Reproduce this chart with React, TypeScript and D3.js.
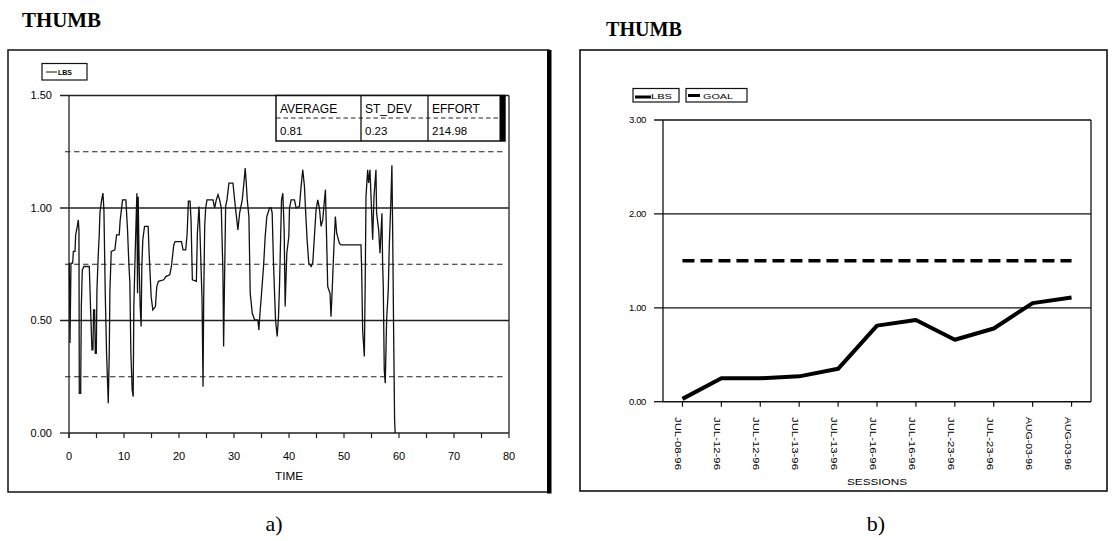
import React from "react";
import * as d3 from "d3";

const TITLE = "THUMB";
const SANS = "'Liberation Sans', Arial, sans-serif";
const SERIF = "'Liberation Serif', 'Times New Roman', serif";

// a) force trace over time (seconds, lbs)
const traceTime = [
  0.06, 0.18, 0.36, 0.67, 0.79, 1.09, 1.21, 1.51, 1.69, 1.81, 1.87, 2.12, 2.24, 2.42, 2.72, 3.69,
  3.93, 4.17, 4.35, 4.47, 4.66, 4.78, 4.96, 5.08, 5.32, 5.5, 5.62, 5.93, 6.17, 6.35, 6.59, 6.83,
  7.14, 7.32, 7.44, 7.68, 8.34, 8.65, 9.13, 9.31, 9.74, 10.34, 10.64, 10.88, 11.07, 11.25, 11.49,
  11.67, 11.79, 11.97, 12.15, 12.34, 12.46, 12.58, 12.76, 12.94, 13.12, 13.24, 13.42, 13.73, 14.39,
  14.57, 14.94, 15.24, 15.72, 15.96, 16.26, 17.23, 17.6, 18.32, 18.62, 19.05, 19.29, 20.44, 20.74,
  21.22, 21.47, 21.71, 22.01, 22.19, 22.43, 23.16, 23.34, 23.64, 23.82, 24.19, 24.37, 24.49, 24.67,
  24.85, 25.09, 26.18, 26.48, 26.78, 27.09, 27.39, 27.69, 27.99, 28.11, 28.3, 28.48, 28.72, 29.08,
  29.81, 30.11, 30.71, 31.02, 31.5, 31.8, 32.04, 32.23, 32.41, 32.71, 32.95, 33.32, 33.74, 34.34,
  34.52, 34.77, 35.01, 35.37, 35.67, 35.97, 36.46, 36.76, 36.94, 37.18, 37.55, 37.85, 38.09, 38.27,
  38.64, 38.88, 39.12, 39.3, 39.6, 39.97, 40.09, 40.39, 40.99, 41.3, 41.9, 42.2, 42.5, 42.81, 42.99,
  43.29, 43.59, 44.02, 44.32, 44.62, 44.92, 45.23, 45.53, 45.83, 46.13, 46.62, 46.8, 47.04, 47.46,
  47.64, 47.83, 48.07, 48.25, 48.43, 48.67, 49.16, 49.46, 53.09, 53.21, 53.39, 53.7, 53.88, 54.0,
  54.3, 54.48, 54.72, 55.03, 55.21, 55.45, 55.81, 55.93, 56.3, 56.54, 56.9, 57.02, 57.14, 57.32,
  57.5, 57.75, 58.05, 58.23, 58.53, 58.71, 58.84, 59.02, 59.2, 59.3,
];
const traceLbs = [
  0.755, 0.4, 0.755, 0.755, 0.807, 0.807, 0.88, 0.918, 0.947, 0.9, 0.176, 0.176, 0.562, 0.725, 0.74, 0.74,
  0.547, 0.37, 0.37, 0.547, 0.547, 0.354, 0.354, 0.636, 0.792, 0.881, 0.977, 1.036, 1.066, 0.992, 0.621, 0.354,
  0.132, 0.354, 0.636, 0.807, 0.814, 0.881, 0.881, 0.947, 1.036, 1.036, 0.903, 0.755, 0.666, 0.354, 0.191,
  0.162, 0.562, 0.74, 0.903, 1.066, 0.621, 1.05, 0.74, 0.562, 0.473, 0.74, 0.859, 0.918, 0.918,
  0.799, 0.606, 0.547, 0.562, 0.651, 0.674, 0.681, 0.695, 0.703, 0.74, 0.836, 0.851, 0.851, 0.814,
  0.814, 0.881, 1.03, 1.03, 0.947, 0.681, 0.674, 0.888, 1.007, 0.888, 0.592, 0.206, 0.592, 0.918,
  1.0, 1.036, 1.036, 1.0, 1.036, 1.059, 1.036, 1.0, 0.71, 0.384, 0.71, 1.007, 1.036, 1.111,
  1.111, 1.036, 0.903, 0.977, 1.036, 1.111, 1.177, 1.111, 1.036, 0.962, 0.621, 0.532, 0.503, 0.503,
  0.458, 0.547, 0.621, 0.74, 0.873, 0.962, 1.0, 1.0, 0.977, 0.755, 0.503, 0.429, 0.517, 0.651,
  1.036, 1.066, 0.903, 0.562, 0.799, 0.873, 1.0, 1.036, 1.036, 1.0, 1.007, 1.096, 1.17, 1.096, 1.0,
  0.859, 0.755, 0.74, 0.755, 0.873, 0.992, 1.036, 1.0, 0.918, 0.947, 1.081, 0.903, 0.651, 0.621,
  0.517, 0.621, 0.77, 0.873, 0.962, 0.888, 0.844, 0.836, 0.836, 0.725, 0.458, 0.34, 0.725, 1.05,
  1.17, 1.111, 1.17, 0.977, 0.859, 1.05, 1.17, 0.977, 0.903, 0.799, 0.977, 0.755, 0.651, 0.28,
  0.221, 0.503, 0.636, 0.829, 1.036, 1.19, 0.918, 0.458, 0.058, 0,
];
const timeTicks = [0, 10, 20, 30, 40, 50, 60, 70, 80];
const lbsTicks = [0, 0.5, 1.0, 1.5];
const bandLines = [0.25, 0.75, 1.25];
const statHeads = ["AVERAGE", "ST_DEV", "EFFORT"];
const statValues = ["0.81", "0.23", "214.98"];

// b) mean force per session
const sessions = [
  "JUL-08-96", "JUL-12-96", "JUL-12-96", "JUL-13-96", "JUL-13-96", "JUL-16-96",
  "JUL-16-96", "JUL-23-96", "JUL-23-96", "AUG-03-96", "AUG-03-96",
];
const sessionLbs = [0.03, 0.25, 0.25, 0.27, 0.35, 0.81, 0.87, 0.66, 0.78, 1.05, 1.11];
const goalLbs = [1.5, 1.5, 1.5, 1.5, 1.5, 1.5, 1.5, 1.5, 1.5, 1.5, 1.5];
const sessionTicks = [0, 1, 2, 3];

const TraceChart = () => {
  const x = d3.scaleLinear().domain([0, 80]).range([69, 509]);
  const y = d3.scaleLinear().domain([0, 1.5]).range([433, 95.5]);
  const pts = traceTime.map((t, i) => [t, traceLbs[i]] as [number, number]);
  const path = d3.line<[number, number]>().x((d) => x(d[0])).y((d) => y(d[1]))(pts) || "";
  const minorTicks = d3.range(0, 81, 5);
  const cols = [276, 361, 428, 505];

  return (
    <g>
      <text x={22} y={27} fontFamily={SERIF} fontWeight="bold" fontSize={20} textLength={79} lengthAdjust="spacingAndGlyphs">
        {TITLE}
      </text>
      <rect x={8} y={50} width={541} height={442} fill="none" stroke="#111" strokeWidth={1.5} />
      <rect x={547} y={50} width={4.5} height={443.5} fill="#000" />

      {/* legend */}
      <rect x={42} y={63.5} width={45} height={16.5} fill="#fff" stroke="#111" strokeWidth={1.2} />
      <line x1={46} x2={57} y1={72} y2={72} stroke="#111" strokeWidth={1} />
      <text x={58} y={74.5} fontFamily={SANS} fontSize={7} fontWeight="bold">LBS</text>

      {/* dashed band lines */}
      {bandLines.map((v) => (
        <line key={v} x1={65} x2={505} y1={y(v)} y2={y(v)} stroke="#222" strokeWidth={1.2} strokeDasharray="5.5 3.5" />
      ))}
      {/* solid grid + ticks */}
      {lbsTicks.map((v) => (
        <g key={v}>
          <line x1={60} x2={v === 0 ? 69 : 509} y1={y(v)} y2={y(v)} stroke="#222" strokeWidth={1.3} />
          <text x={52} y={y(v)} dy="0.35em" textAnchor="end" fontFamily={SANS} fontSize={11}>
            {v.toFixed(2)}
          </text>
        </g>
      ))}
      <line x1={69} x2={509} y1={y(0)} y2={y(0)} stroke="#222" strokeWidth={1.3} />
      <line x1={69} x2={69} y1={y(1.5)} y2={y(0) + 5} stroke="#222" strokeWidth={1.3} />
      <line x1={509} x2={509} y1={y(1.5)} y2={y(0)} stroke="#222" strokeWidth={1.3} />
      {minorTicks.map((t) => (
        <line key={t} x1={x(t)} x2={x(t)} y1={y(0)} y2={y(0) + 5} stroke="#222" strokeWidth={1.2} />
      ))}
      {timeTicks.map((t) => (
        <text key={t} x={x(t)} y={460} textAnchor="middle" fontFamily={SANS} fontSize={11}>
          {t}
        </text>
      ))}
      <text x={289} y={480} textAnchor="middle" fontFamily={SANS} fontSize={10.5} textLength={28} lengthAdjust="spacingAndGlyphs">
        TIME
      </text>

      <path d={path} fill="none" stroke="#111" strokeWidth={1.3} strokeLinejoin="miter" />

      {/* stats table */}
      <rect x={cols[0]} y={95.5} width={cols[3] - cols[0]} height={45.5} fill="#fff" stroke="#111" strokeWidth={1.5} />
      <rect x={cols[3] - 5.5} y={95.5} width={5.5} height={45.5} fill="#000" />
      <line x1={cols[0]} x2={cols[3] - 6} y1={118} y2={118} stroke="#222" strokeWidth={1.1} strokeDasharray="4.5 3" />
      {[cols[1], cols[2]].map((c) => (
        <line key={c} x1={c} x2={c} y1={95.5} y2={141} stroke="#111" strokeWidth={1.3} />
      ))}
      {statHeads.map((h, i) => (
        <text key={h} x={cols[i] + 4} y={113} fontFamily={SANS} fontSize={12}>
          {h}
        </text>
      ))}
      {statValues.map((s, i) => (
        <text key={i} x={cols[i] + 4} y={135} fontFamily={SANS} fontSize={11.5}>
          {s}
        </text>
      ))}

      <text x={274} y={531} textAnchor="middle" fontFamily={SERIF} fontSize={22}>a)</text>
    </g>
  );
};

const SessionChart = () => {
  const idx = sessions.map((_, i) => i);
  const x = d3.scalePoint<number>().domain(idx).range([663, 1091]).padding(0.5);
  const y = d3.scaleLinear().domain([0, 3]).range([401.7, 120]);
  const lbsPath = d3.line<number>().x((_, i) => x(i) as number).y((d) => y(d))(sessionLbs) || "";
  const goalPath = d3.line<number>().x((_, i) => x(i) as number).y((d) => y(d))(goalLbs) || "";

  return (
    <g>
      <text x={606} y={36} fontFamily={SERIF} fontWeight="bold" fontSize={20} textLength={76} lengthAdjust="spacingAndGlyphs">
        {TITLE}
      </text>
      <rect x={580} y={50} width={527} height={441} fill="none" stroke="#111" strokeWidth={1.6} />

      {/* legend */}
      <rect x={633} y={88.5} width={46} height={13.5} fill="#fff" stroke="#111" strokeWidth={1.2} />
      <line x1={635} x2={651} y1={97} y2={97} stroke="#000" strokeWidth={3} />
      <text x={651} y={99} fontFamily={SANS} fontSize={8} textLength={21} lengthAdjust="spacingAndGlyphs">LBS</text>
      <rect x={686} y={88.5} width={61} height={13.5} fill="#fff" stroke="#111" strokeWidth={1.2} />
      <line x1={688} x2={700} y1={95.5} y2={95.5} stroke="#000" strokeWidth={3} />
      <text x={703} y={99} fontFamily={SANS} fontSize={8} textLength={30} lengthAdjust="spacingAndGlyphs">GOAL</text>

      {sessionTicks.map((v) => (
        <g key={v}>
          <line x1={654} x2={v === 0 ? 663 : 1091} y1={y(v)} y2={y(v)} stroke="#111" strokeWidth={1.3} />
          <text x={646} y={y(v)} dy="0.35em" textAnchor="end" fontFamily={SANS} fontSize={9.5} letterSpacing={-0.4}>
            {v.toFixed(2)}
          </text>
        </g>
      ))}
      <line x1={663} x2={1091} y1={y(0)} y2={y(0)} stroke="#111" strokeWidth={1.6} />
      <line x1={663} x2={663} y1={y(3)} y2={y(0)} stroke="#111" strokeWidth={1.3} />
      <line x1={1091} x2={1091} y1={y(3)} y2={y(0)} stroke="#111" strokeWidth={1.3} />
      {idx.map((i) => (
        <line key={i} x1={x(i)} x2={x(i)} y1={y(0)} y2={y(0) + 5} stroke="#111" strokeWidth={1.2} />
      ))}
      {sessions.map((s, i) => (
        <text
          key={i}
          transform={`translate(${(x(i) as number) - 4},417) rotate(90)`}
          dy="0.35em"
          fontFamily={SANS}
          fontSize={8.5}
          textLength={53}
          lengthAdjust="spacingAndGlyphs"
        >
          {s}
        </text>
      ))}
      <text x={877} y={485} textAnchor="middle" fontFamily={SANS} fontSize={9} textLength={60} lengthAdjust="spacingAndGlyphs">
        SESSIONS
      </text>

      <path d={goalPath} fill="none" stroke="#000" strokeWidth={3.5} strokeDasharray="12 6" />
      <path d={lbsPath} fill="none" stroke="#000" strokeWidth={4} strokeLinejoin="round" />

      <text x={876} y={531} textAnchor="middle" fontFamily={SERIF} fontSize={22}>b)</text>
    </g>
  );
};

const App = () => (
  <div style={{ position: "absolute", left: 0, top: 0 }}>
    <svg width={1113} height={541} style={{ display: "block", background: "#fff" }}>
      <TraceChart />
      <SessionChart />
    </svg>
  </div>
);

export default App;
